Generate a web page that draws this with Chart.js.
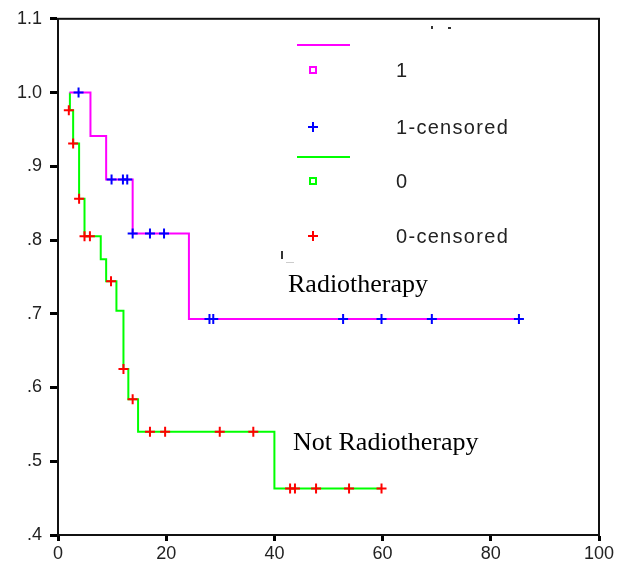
<!DOCTYPE html>
<html>
<head>
<meta charset="utf-8">
<script src="https://cdn.jsdelivr.net/npm/chart.js@4.4.0/dist/chart.umd.min.js"></script>
<style>
  html, body { margin: 0; padding: 0; background: #fff; }
  #wrap { width: 620px; height: 562px; }
</style>
</head>
<body>
<div id="wrap"><canvas id="kmChart" width="620" height="562"></canvas></div>
<script>
// Survival curve, Radiotherapy group (1)
const radioTimes = [2.1, 6.0, 8.9, 13.8, 24.2, 85.2];
const radioSurv = [1.0, 0.941, 0.882, 0.809, 0.693, 0.693];
const radioCensTimes = [3.8, 9.9, 12.0, 12.8, 13.8, 17.0, 19.6, 28.0, 28.7, 52.7, 59.8, 69.1, 85.2];
const radioCensSurv = [1.0, 0.882, 0.882, 0.882, 0.809, 0.809, 0.809, 0.693, 0.693, 0.693, 0.693, 0.693, 0.693];

// Survival curve, Not Radiotherapy group (0)
const noRadioTimes = [2.2, 2.2, 2.8, 3.9, 4.9, 7.9, 8.9, 10.8, 12.1, 13.0, 14.8, 40.0, 59.8];
const noRadioSurv = [1.0, 0.976, 0.931, 0.856, 0.805, 0.774, 0.744, 0.704, 0.625, 0.584, 0.540, 0.463, 0.463];
const noRadioCensTimes = [2.0, 2.8, 3.9, 4.9, 5.9, 9.8, 12.1, 13.8, 17.0, 19.8, 29.9, 36.1, 42.9, 43.8, 47.7, 53.8, 59.8];
const noRadioCensSurv = [0.976, 0.931, 0.856, 0.805, 0.805, 0.744, 0.625, 0.584, 0.540, 0.540, 0.540, 0.540, 0.463, 0.463, 0.463, 0.463, 0.463];

const xTicks = [0, 20, 40, 60, 80, 100];
const yTicks = [0.4, 0.5, 0.6, 0.7, 0.8, 0.9, 1.0, 1.1];

const legendItems = [
    { kind: 'line', color: '#ff00ff', label: '' },
    { kind: 'square', color: '#ff00ff', label: '1' },
    { kind: 'cross', color: '#0000ff', label: '1-censored' },
    { kind: 'line', color: '#00ff00', label: '' },
    { kind: 'square', color: '#00ff00', label: '0' },
    { kind: 'cross', color: '#ff0000', label: '0-censored' }
];

const toPoints = (xs, ys) => xs.map((x, i) => ({ x: x, y: ys[i] }));

// Frame, legend and group labels
const extrasPlugin = {
    id: 'extras',
    afterDraw(chart) {
        const ctx = chart.ctx;
        const a = chart.chartArea;
        ctx.save();
        ctx.strokeStyle = '#111';
        ctx.lineWidth = 2;
        ctx.strokeRect(a.left, a.top, a.right - a.left, a.bottom - a.top);

        // legend
        const rowY = [45, 70, 127, 157, 181, 236];
        legendItems.forEach((it, i) => {
            const y = rowY[i];
            ctx.strokeStyle = it.color;
            ctx.lineWidth = 2;
            if (it.kind === 'line') {
                ctx.beginPath();
                ctx.moveTo(297, y);
                ctx.lineTo(350, y);
                ctx.stroke();
            } else if (it.kind === 'square') {
                ctx.strokeRect(310, y - 3, 6, 6);
            } else {
                ctx.beginPath();
                ctx.moveTo(308, y);
                ctx.lineTo(318, y);
                ctx.moveTo(313, y - 5);
                ctx.lineTo(313, y + 5);
                ctx.stroke();
            }
            if (it.label) {
                ctx.fillStyle = '#222';
                ctx.font = '20px "Liberation Sans", Arial, sans-serif';
                ctx.letterSpacing = '1.3px';
                ctx.textAlign = 'left';
                ctx.textBaseline = 'middle';
                ctx.fillText(it.label, 396, y + 1);
            }
        });

        // leftovers of the hidden legend title
        ctx.fillStyle = '#333';
        ctx.fillRect(431, 26, 2, 3);
        ctx.fillRect(448, 27, 3, 2);
        ctx.fillRect(281, 251, 2, 8);
        ctx.fillStyle = '#ccc';
        ctx.fillRect(286, 262, 8, 1);

        ctx.letterSpacing = '0px';
        ctx.fillStyle = '#000';
        ctx.font = '26px "Liberation Serif", "Times New Roman", serif';
        ctx.textBaseline = 'alphabetic';
        ctx.fillText('Radiotherapy', 288, 292);
        ctx.fillText('Not Radiotherapy', 293, 450);
        ctx.restore();
    }
};

const ctx = document.getElementById('kmChart').getContext('2d');
const kmChart = new Chart(ctx, {
    type: 'scatter',
    data: {
        datasets: [
            {
                label: '1',
                data: toPoints(radioTimes, radioSurv),
                showLine: true,
                stepped: 'before',
                borderColor: '#ff00ff',
                borderWidth: 2,
                pointRadius: 0,
                order: 2
            },
            {
                label: '0',
                data: toPoints(noRadioTimes, noRadioSurv),
                showLine: true,
                stepped: 'before',
                borderColor: '#00ff00',
                borderWidth: 2,
                pointRadius: 0,
                order: 3
            },
            {
                label: '1-censored',
                data: toPoints(radioCensTimes, radioCensSurv),
                pointStyle: 'cross',
                pointRadius: 5,
                borderColor: '#0000ff',
                borderWidth: 2,
                order: 0
            },
            {
                label: '0-censored',
                data: toPoints(noRadioCensTimes, noRadioCensSurv),
                pointStyle: 'cross',
                pointRadius: 5,
                borderColor: '#ff0000',
                borderWidth: 2,
                order: 1
            }
        ]
    },
    options: {
        responsive: false,
        animation: false,
        clip: false,
        layout: { padding: { top: 17, right: 21, left: 0, bottom: 0 } },
        plugins: {
            legend: { display: false },
            tooltip: { enabled: false }
        },
        scales: {
            x: {
                type: 'linear',
                min: 0,
                max: 100,
                afterFit: s => { s.height = 27; },
                afterBuildTicks: s => { s.ticks = xTicks.map(v => ({ value: v })); },
                grid: { drawOnChartArea: false, tickLength: 6, tickWidth: 3, tickColor: '#000' },
                border: { display: true, color: '#111', width: 2 },
                ticks: {
                    color: '#222',
                    padding: 2,
                    maxRotation: 0,
                    font: { family: '"Liberation Sans", Arial, sans-serif', size: 18 }
                }
            },
            y: {
                type: 'linear',
                min: 0.4,
                max: 1.1,
                afterFit: s => { s.width = 58; },
                afterBuildTicks: s => { s.ticks = yTicks.map(v => ({ value: v })); },
                grid: { drawOnChartArea: false, tickLength: 8, tickWidth: 3, tickColor: '#000' },
                border: { display: true, color: '#111', width: 2 },
                ticks: {
                    color: '#222',
                    padding: 8,
                    font: { family: '"Liberation Sans", Arial, sans-serif', size: 18 },
                    callback: v => v.toFixed(1).replace(/^0/, '')
                }
            }
        }
    },
    plugins: [extrasPlugin]
});
</script>
</body>
</html>
